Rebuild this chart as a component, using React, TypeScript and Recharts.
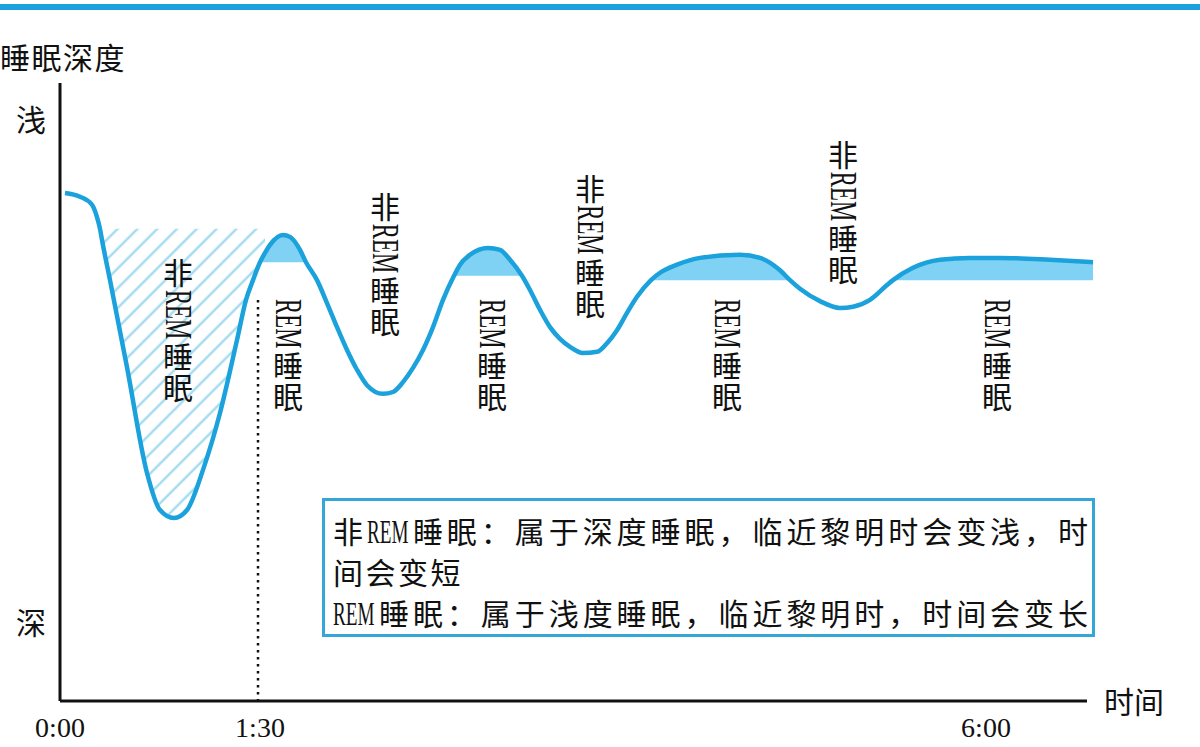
import { ComposedChart, Line, Area, XAxis, YAxis, ReferenceLine, ReferenceDot } from "recharts";

// schematic time axis (0 = fall asleep), depth: 100 = shallow, 0 = deep
const times = [0.5, 2.0, 3.2, 3.7, 4.0, 4.2, 5.0, 6.7, 8.7, 10.0, 11.4, 12.7, 14.3, 16.0, 17.7, 18.6, 19.3, 20.0, 20.5, 21.0, 22.3, 23.0, 24.0, 24.6, 25.7, 26.7, 27.7, 28.7, 29.7, 30.7, 32.3, 33.3, 34.3, 35.3, 36.3, 37.3, 38.3, 39.4, 40.0, 41.0, 42.8, 44.0, 45.0, 46.2, 47.0, 48.0, 49.0, 50.0, 51.0, 52.3, 53.7, 54.7, 55.7, 56.7, 57.7, 59.1, 60.0, 61.7, 64.0, 68.0, 70.0, 72.0, 73.0, 74.0, 76.0, 78.0, 79.3, 81.0, 82.7, 83.3, 85.3, 88.0, 91.0, 94.0, 99.0, 103.3];
const depth = [82.2, 81.6, 80.3, 78.3, 76.4, 74.6, 68.1, 54.0, 36.9, 30.9, 29.6, 30.9, 37.4, 46.6, 58.4, 64.9, 68.1, 71.0, 72.5, 73.8, 75.4, 75.1, 73.0, 71.0, 68.1, 64.4, 60.5, 56.8, 53.6, 51.1, 49.7, 50.0, 51.6, 53.9, 56.8, 60.5, 64.9, 68.8, 70.6, 72.2, 73.3, 73.0, 71.4, 68.8, 66.5, 63.3, 60.5, 58.6, 57.3, 56.3, 56.5, 57.9, 60.0, 62.8, 65.4, 68.1, 69.3, 70.6, 71.7, 72.2, 71.7, 69.7, 68.1, 66.7, 64.7, 63.6, 63.8, 64.9, 67.3, 68.1, 70.1, 71.4, 71.7, 71.7, 71.4, 71.0];

// first deep (non-REM) phase, hatched
const hatchSpan = [4.0, 20.5];
const hatchTop = 76.4;

// REM phases, filled above a level
const remStart = [20.0, 39.4, 59.1, 83.3];
const remEnd = [24.6, 46.2, 73.0, 103.3];
const remLevel = [71.0, 68.8, 68.1, 68.1];

const xTickPos = [0, 20.0, 92.6];
const xTickLabels = ["0:00", "1:30", "6:00"];
const yTickPos = [94.3, 12.9];
const yTickLabels = ["浅", "深"];

const stageTexts = ["非REM睡眠", "REM睡眠", "非REM睡眠", "REM睡眠", "非REM睡眠", "REM睡眠", "非REM睡眠", "REM睡眠"];
const stageT = [11.8, 22.8, 32.5, 43.2, 53.0, 66.7, 78.3, 93.7];
const stageV = [71.7, 65.2, 82.4, 65.2, 85.4, 65.2, 90.8, 65.2];

const remDivider = 19.8;
const remDividerTop = 64.9;
const xAxisEnd = 102.7;

const rows = times.map((t, i) => {
  const d = depth[i];
  const band = remStart.findIndex((s, k) => t >= s && t <= remEnd[k]);
  return {
    t,
    depth: d,
    hatch: t >= hatchSpan[0] && t <= hatchSpan[1] ? [d, hatchTop] : null,
    rem: band >= 0 ? [remLevel[band], d] : null,
  };
});

const BLUE = "#1ba1db";
const CJK = "'Noto Sans CJK SC', sans-serif";
const LATIN = "'Liberation Serif', 'Noto Sans CJK SC', serif";

const XTick = (props: any) => {
  const { x, y, payload } = props;
  const idx = xTickPos.indexOf(payload.value);
  return (
    <text x={x} y={y + 26} textAnchor="middle" dominantBaseline="central" fontSize={28} fontFamily={LATIN} fill="#111">
      {xTickLabels[idx]}
    </text>
  );
};

const YTick = (props: any) => {
  const { x, y, payload } = props;
  const idx = yTickPos.indexOf(payload.value);
  return (
    <text x={x - 29} y={y} textAnchor="middle" dominantBaseline="central" fontSize={30} fontFamily={CJK} fill="#111">
      {yTickLabels[idx]}
    </text>
  );
};

// vertical label: upright CJK runs, rotated condensed "REM"
const VLabel = ({ cx, cy, text }: { cx: number; cy: number; text: string }) => {
  const parts = text.split(/(REM)/).filter(Boolean);
  let cursor = cy;
  const out: any[] = [];
  parts.forEach((p, i) => {
    if (p === "REM") {
      out.push(
        <text key={i} transform={`translate(${cx - 12.5}, ${cursor + 1}) rotate(90) scale(0.6,1)`} fontSize={38} fontFamily="'Liberation Serif', serif" fill="#111">
          REM
        </text>
      );
      cursor += 53;
    } else {
      out.push(
        <text key={i} x={cx} y={cursor} textAnchor="start" fontSize={30} fontFamily={CJK} fill="#111" letterSpacing={1} style={{ writingMode: "vertical-rl" }}>
          {p}
        </text>
      );
      cursor += 31 * p.length;
    }
  });
  return <g>{out}</g>;
};

const RemWord = () => (
  <span style={{ display: "inline-block", width: 42, whiteSpace: "nowrap" }}>
    <span style={{ display: "inline-block", fontSize: 33, transform: "scaleX(0.58)", transformOrigin: "left center", fontFamily: "'Liberation Serif', serif" }}>REM</span>
  </span>
);

export default function App() {
  const lineStyle: any = { position: "absolute", left: 8, width: 755, height: 40, lineHeight: "40px", fontSize: 30, fontFamily: CJK, color: "#111", whiteSpace: "nowrap" };
  return (
    <div style={{ position: "absolute", left: 0, top: 0, width: 1200, height: 747, background: "#fff", overflow: "hidden" }}>
      <div style={{ position: "absolute", left: 0, top: 4, width: 1200, height: 6, background: BLUE }} />
      <div style={{ position: "absolute", left: 0, top: 36, fontSize: 30, lineHeight: "40px", letterSpacing: 1.5, fontFamily: CJK, color: "#111" }}>睡眠深度</div>
      <div style={{ position: "absolute", left: 1104, top: 680, fontSize: 30, lineHeight: "40px", fontFamily: CJK, color: "#111" }}>时间</div>

      <ComposedChart width={1200} height={747} data={rows} margin={{ top: 83, right: 106, bottom: 0, left: 0 }}>
        <defs>
          <pattern id="hatch" patternUnits="userSpaceOnUse" width="14" height="14" patternTransform="rotate(45)">
            <line x1="7" y1="0" x2="7" y2="14" stroke="#a6dbf0" strokeWidth="2.5" />
          </pattern>
        </defs>
        <XAxis type="number" dataKey="t" domain={[0, 103.4]} ticks={xTickPos} interval={0} axisLine={false} tickLine={false} tickSize={0} tickMargin={0} height={46} tick={<XTick />} />
        <YAxis type="number" domain={[0, 100]} ticks={yTickPos} interval={0} width={60} axisLine={{ stroke: "#111", strokeWidth: 3 }} tickLine={false} tickSize={0} tickMargin={0} tick={<YTick />} />
        <Area type="monotone" dataKey="hatch" stroke="none" fill="url(#hatch)" fillOpacity={1} isAnimationActive={false} connectNulls={false} activeDot={false} />
        <Area type="monotone" dataKey="rem" stroke="none" fill="#80d2f4" fillOpacity={1} isAnimationActive={false} connectNulls={false} activeDot={false} />
        <ReferenceLine segment={[{ x: remDivider, y: remDividerTop }, { x: remDivider, y: 0 }]} stroke="#111" strokeWidth={2.5} strokeDasharray="2.5 4.5" />
        <ReferenceLine segment={[{ x: 0, y: 0 }, { x: xAxisEnd, y: 0 }]} stroke="#111" strokeWidth={3} />
        <Line type="monotone" dataKey="depth" stroke={BLUE} strokeWidth={4.5} dot={false} activeDot={false} isAnimationActive={false} />
        {stageTexts.map((s, i) => (
          <ReferenceDot key={i} x={stageT[i]} y={stageV[i]} r={0} ifOverflow="visible" shape={(p: any) => <VLabel cx={p.cx} cy={p.cy} text={s} />} />
        ))}
      </ComposedChart>

      <div style={{ position: "absolute", left: 322, top: 498, width: 773, height: 139, border: "3px solid #33a7d8", boxSizing: "border-box" }}>
        <div style={{ ...lineStyle, top: 9, textAlign: "justify", textAlignLast: "justify" }}>
          非<RemWord />睡眠：属于深度睡眠，临近黎明时会变浅，时
        </div>
        <div style={{ ...lineStyle, top: 50, letterSpacing: 2.5 }}>间会变短</div>
        <div style={{ ...lineStyle, top: 91, textAlign: "justify", textAlignLast: "justify" }}>
          <RemWord />睡眠：属于浅度睡眠，临近黎明时，时间会变长
        </div>
      </div>
    </div>
  );
}
